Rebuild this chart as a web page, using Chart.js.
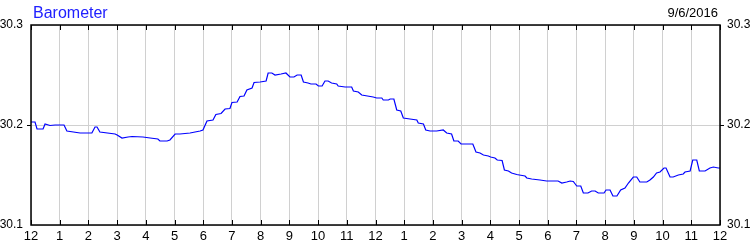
<!DOCTYPE html>
<html>
<head>
<meta charset="utf-8">
<script src="https://cdn.jsdelivr.net/npm/chart.js"></script>
<style>
  html, body { margin: 0; padding: 0; background: #fff; }
  #wrap { width: 750px; height: 250px; }
</style>
</head>
<body>
<div id="wrap"><canvas id="chart" width="750" height="250"></canvas></div>
<script>
const title = "Barometer";
const dateLabel = "9/6/2016";

// hour labels for the x axis, midnight to midnight
const hourLabels = ["12", "1", "2", "3", "4", "5", "6", "7", "8", "9", "10", "11",
  "12", "1", "2", "3", "4", "5", "6", "7", "8", "9", "10", "11", "12"];
const pressureTicks = [30.1, 30.2, 30.3];

// time of reading, hours since midnight
const hours = [
  0.00, 0.14, 0.21, 0.42, 0.49, 0.66, 0.84, 1.15, 1.25, 1.71,
  2.12, 2.23, 2.30, 2.40, 2.93, 3.00, 3.17, 3.38, 3.52, 3.90,
  4.15, 4.42, 4.49, 4.74, 4.84, 5.02, 5.19, 5.54, 5.89, 5.99,
  6.13, 6.34, 6.44, 6.62, 6.76, 6.93, 7.00, 7.18, 7.28, 7.42,
  7.52, 7.70, 7.77, 7.98, 8.19, 8.26, 8.39, 8.50, 8.71, 8.88,
  9.02, 9.16, 9.27, 9.41, 9.49, 9.65, 9.75, 9.93, 10.01, 10.14,
  10.24, 10.35, 10.47, 10.65, 10.70, 10.94, 11.17, 11.23, 11.40, 11.52,
  11.92, 12.04, 12.22, 12.27, 12.45, 12.51, 12.64, 12.74, 12.88, 12.97,
  13.20, 13.44, 13.49, 13.67, 13.75, 13.90, 14.13, 14.36, 14.48, 14.65,
  14.73, 14.88, 14.98, 15.39, 15.50, 15.64, 15.76, 15.93, 16.01, 16.16,
  16.24, 16.41, 16.49, 16.63, 16.74, 16.92, 17.01, 17.21, 17.27, 17.44,
  17.73, 17.96, 18.36, 18.49, 18.66, 18.78, 18.89, 19.01, 19.15, 19.24,
  19.40, 19.53, 19.65, 19.76, 19.96, 20.03, 20.17, 20.27, 20.41, 20.54,
  20.69, 20.81, 20.98, 21.10, 21.21, 21.45, 21.56, 21.68, 21.79, 21.91,
  22.05, 22.12, 22.26, 22.37, 22.55, 22.72, 22.78, 22.96, 23.05, 23.19,
  23.28, 23.48, 23.65, 23.77, 23.94, 24.00
];

// barometric pressure, inHg
const pressure = [
  30.203, 30.203, 30.196, 30.196, 30.201, 30.1995, 30.200, 30.200, 30.194, 30.192,
  30.192, 30.198, 30.198, 30.193, 30.191, 30.190, 30.187, 30.188, 30.1885, 30.188,
  30.187, 30.186, 30.184, 30.184, 30.185, 30.191, 30.191, 30.192, 30.194, 30.195,
  30.204, 30.205, 30.2105, 30.2115, 30.216, 30.2165, 30.2225, 30.223, 30.2285, 30.229,
  30.235, 30.237, 30.2425, 30.243, 30.244, 30.252, 30.252, 30.250, 30.251, 30.252,
  30.248, 30.248, 30.250, 30.250, 30.243, 30.242, 30.241, 30.241, 30.239, 30.239,
  30.244, 30.244, 30.242, 30.241, 30.239, 30.238, 30.238, 30.234, 30.233, 30.230,
  30.228, 30.227, 30.227, 30.225, 30.225, 30.226, 30.226, 30.215, 30.214, 30.207,
  30.206, 30.205, 30.202, 30.201, 30.195, 30.194, 30.194, 30.195, 30.192, 30.191,
  30.184, 30.184, 30.181, 30.181, 30.173, 30.172, 30.170, 30.169, 30.168, 30.167,
  30.165, 30.1645, 30.155, 30.154, 30.152, 30.1505, 30.150, 30.149, 30.147, 30.146,
  30.145, 30.144, 30.144, 30.142, 30.143, 30.144, 30.1435, 30.139, 30.139, 30.132,
  30.132, 30.134, 30.134, 30.132, 30.132, 30.135, 30.135, 30.129, 30.129, 30.135,
  30.137, 30.142, 30.148, 30.148, 30.143, 30.143, 30.145, 30.148, 30.152, 30.153,
  30.157, 30.157, 30.148, 30.148, 30.150, 30.151, 30.153, 30.154, 30.165, 30.165,
  30.154, 30.154, 30.157, 30.158, 30.157, 30.157
];

const font = "'Liberation Sans', Arial, sans-serif";

// header texts, plot frame and the little inward ticks on top/bottom edges
const framePlugin = {
  id: "frame",
  afterDraw(chart) {
    const { ctx, chartArea: a, scales } = chart;
    ctx.save();
    ctx.strokeStyle = "#000";
    ctx.lineWidth = 1;
    scales.x.ticks.forEach((t) => {
      const px = Math.round(scales.x.getPixelForValue(t.value)) + 0.5;
      ctx.beginPath();
      ctx.moveTo(px, a.top);
      ctx.lineTo(px, a.top + 5);
      ctx.moveTo(px, a.bottom - 5);
      ctx.lineTo(px, a.bottom);
      ctx.stroke();
    });
    ctx.lineWidth = 1.5;
    ctx.strokeRect(a.left, a.top, a.right - a.left, a.bottom - a.top);

    ctx.textBaseline = "alphabetic";
    ctx.fillStyle = "#2020ff";
    ctx.font = "16px " + font;
    ctx.textAlign = "left";
    ctx.fillText(title, 33, 18);
    ctx.fillStyle = "#000";
    ctx.font = "13px " + font;
    ctx.textAlign = "right";
    ctx.fillText(dateLabel, 718, 17);
    ctx.restore();
  },
};

new Chart(document.getElementById("chart"), {
  type: "line",
  data: {
    datasets: [
      {
        data: hours.map((h, i) => ({ x: h, y: pressure[i] })),
        borderColor: "#0000ff",
        borderWidth: 1.2,
        pointRadius: 0,
        tension: 0,
        yAxisID: "y",
      },
    ],
  },
  options: {
    responsive: false,
    animation: false,
    events: [],
    layout: { padding: { top: 25, left: 0, right: 0, bottom: 0 } },
    plugins: {
      legend: { display: false },
      tooltip: { enabled: false },
    },
    scales: {
      x: {
        type: "linear",
        min: 0,
        max: 24,
        afterBuildTicks: (s) => {
          s.ticks = hourLabels.map((_, i) => ({ value: i }));
        },
        afterFit: (s) => {
          s.height = 25;
        },
        ticks: {
          color: "#000",
          font: { family: font, size: 13 },
          padding: 4,
          maxRotation: 0,
          autoSkip: false,
          callback: (v) => hourLabels[v],
        },
        grid: { color: "#d0d0d0", drawTicks: false },
        border: { display: false },
      },
      y: {
        position: "left",
        min: 30.1,
        max: 30.3,
        afterBuildTicks: (s) => {
          s.ticks = pressureTicks.map((v) => ({ value: v }));
        },
        afterFit: (s) => {
          s.width = 31;
        },
        ticks: {
          color: "#000",
          font: { family: font, size: 12 },
          padding: 4,
          callback: (v) => v.toFixed(1),
        },
        grid: {
          color: "#d0d0d0",
          tickLength: 4,
          tickColor: (c) => (c.tick && Math.abs(c.tick.value - 30.2) < 1e-6 ? "#000" : "rgba(0,0,0,0)"),
        },
        border: { display: false },
      },
      y2: {
        position: "right",
        min: 30.1,
        max: 30.3,
        afterBuildTicks: (s) => {
          s.ticks = pressureTicks.map((v) => ({ value: v }));
        },
        afterFit: (s) => {
          s.width = 30;
        },
        ticks: {
          color: "#000",
          font: { family: font, size: 12 },
          padding: 3,
          callback: (v) => v.toFixed(1),
        },
        grid: {
          drawOnChartArea: false,
          tickLength: 4,
          tickColor: (c) => (c.tick && Math.abs(c.tick.value - 30.2) < 1e-6 ? "#000" : "rgba(0,0,0,0)"),
        },
        border: { display: false },
      },
    },
  },
  plugins: [framePlugin],
});
</script>
</body>
</html>
